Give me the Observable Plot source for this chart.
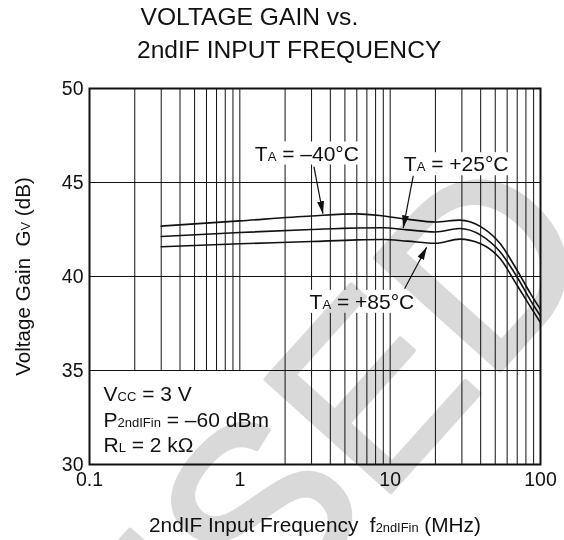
<!DOCTYPE html>
<html>
<head>
<meta charset="utf-8">
<script src="https://cdn.jsdelivr.net/npm/d3@7"></script>
<script src="https://cdn.jsdelivr.net/npm/@observablehq/plot@0.6"></script>
<style>
  html, body { margin: 0; padding: 0; background: #fff; }
  #page { position: relative; width: 564px; height: 540px; overflow: hidden; background: #fff; }
  #title { height: 70px; font-family: "Liberation Sans", Arial, sans-serif; font-size: 24.6px; line-height: 33px; color: #111; }
  #wm { position: absolute; left: 0; top: 0; mix-blend-mode: multiply; pointer-events: none; }
</style>
</head>
<body>
<div id="page">
  <div id="title">
    <div style="padding-left:140.5px">VOLTAGE GAIN vs.</div>
    <div style="padding-left:137px">2ndIF INPUT FREQUENCY</div>
  </div>
  <div id="chart"></div>
  <svg id="wm" width="564" height="540"><text transform="translate(605,254) rotate(-48)" text-anchor="end" font-size="245" fill="#d9d9d9" stroke="#d9d9d9" stroke-width="4" stroke-linejoin="round" font-family="Liberation Sans, Arial, sans-serif">USED</text></svg>
</div>
<script>
// ---- data ----
const freq = [0.3, 1, 3, 6, 9, 13, 20, 29, 40, 54, 70, 86, 100];            // MHz
const gainM40 = [42.68, 42.96, 43.22, 43.33, 43.22, 43.05, 42.90, 43.00, 42.65, 41.74, 40.32, 39.08, 38.25];
const gainP25 = [42.13, 42.34, 42.50, 42.58, 42.59, 42.48, 42.37, 42.55, 42.20, 41.30, 39.96, 38.72, 37.90];
const gainP85 = [41.58, 41.74, 41.86, 41.95, 41.97, 41.88, 41.77, 41.99, 41.74, 40.94, 39.52, 38.37, 37.55];
const seriesNames = ["-40", "+25", "+85"];

const xTicks = [0.1, 1, 10, 100];
const yTicks = [30, 35, 40, 45, 50];
const gridFreqLow = [0.2, 0.3, 0.4, 0.5, 0.6, 0.7, 0.8, 0.9, 1];
const gridFreqHigh = [2, 3, 4, 5, 6, 7, 8, 9, 10, 20, 30, 40, 50, 60, 70, 80, 90];
const gridGain = [35, 40, 45];

// curve labels (baseline-left positions in data units)
const labelText = ["T{A} = –40°C", "T{A} = +25°C", "T{A} = +85°C"];
const labelFreq = [1.258, 12.33, 2.91];
const labelGain = [46.17, 45.6, 38.28];

// arrows: from label to curve
const arrowF1 = [3.11, 14.25, 12.47];
const arrowG1 = [45.85, 45.37, 39.35];
const arrowF2 = [3.57, 12.22, 17.47];
const arrowG2 = [43.34, 42.59, 41.55];

// conditions block
const condText = ["V{CC} = 3 V", "P{2ndIFin} = –60 dBm", "R{L} = 2 kΩ"];
const condFreq = [0.1239, 0.1239, 0.1239];
const condGain = [33.38, 32.0, 30.67];

const xLabel = "2ndIF Input Frequency\u00a0\u00a0f{2ndIFin} (MHz)";
const yLabel = "Voltage Gain\u00a0\u00a0G{V} (dB)";

// ---- tables ----
const seriesVals = [gainM40, gainP25, gainP85];
const curves = [];
seriesNames.forEach((s, i) => freq.forEach((f, j) => curves.push({s, f, g: seriesVals[i][j]})));
const labels = labelText.map((t, i) => ({t, f: labelFreq[i], g: labelGain[i]}));
const arrows = arrowF1.map((d, i) => ({f1: d, g1: arrowG1[i], f2: arrowF2[i], g2: arrowG2[i]}));
const conds = condText.map((t, i) => ({t, f: condFreq[i], g: condGain[i]}));

const INK = "#111";
const FONT = "Liberation Sans, Arial, sans-serif";

const chart = Plot.plot({
  width: 564,
  height: 470,
  marginLeft: 89,
  marginRight: 24,
  marginTop: 18,
  marginBottom: 76,
  style: {fontFamily: FONT, color: INK, background: "transparent", overflow: "visible"},
  x: {type: "log", domain: [0.1, 100]},
  y: {domain: [30, 50]},
  marks: [
    Plot.ruleX(gridFreqLow, {x: d => d, y1: 35, y2: 50, stroke: INK, strokeWidth: 1}),
    Plot.ruleX(gridFreqHigh, {x: d => d, y1: 30, y2: 50, stroke: INK, strokeWidth: 1}),
    Plot.ruleY(gridGain, {y: d => d, stroke: INK, strokeWidth: 1}),
    Plot.line(curves, {x: "f", y: "g", z: "s", curve: "monotone-x", stroke: INK, strokeWidth: 1.6}),
    Plot.link(arrows, {x1: "f1", y1: "g1", x2: "f2", y2: "g2", stroke: INK, strokeWidth: 1.2}),
    Plot.text(labels, {x: "f", y: "g", text: "t", textAnchor: "start", lineAnchor: "bottom", fontSize: 21, fill: INK}),
    Plot.text(conds, {x: "f", y: "g", text: "t", textAnchor: "start", lineAnchor: "bottom", fontSize: 21, fill: INK}),
    Plot.frame({stroke: INK, strokeWidth: 2}),
    Plot.axisX(xTicks, {tickSize: 0, tickPadding: 8, fontSize: 19.5, label: null, tickFormat: d => String(d)}),
    Plot.axisY(yTicks, {tickSize: 0, tickPadding: 6, fontSize: 19.5, label: null}),
    Plot.text([xLabel], {frameAnchor: "bottom", dy: 67.7, textAnchor: "middle", lineAnchor: "bottom", fontSize: 20.8, text: d => d, fill: INK}),
    Plot.text([yLabel], {frameAnchor: "left", rotate: -90, dx: -59.5, textAnchor: "middle", lineAnchor: "bottom", fontSize: 20.6, text: d => d, fill: INK})
  ]
});
document.getElementById("chart").appendChild(chart);

// ---- post-processing: subscripts, label backgrounds, filled arrowheads ----
const NS = "http://www.w3.org/2000/svg";
chart.querySelectorAll("text").forEach(el => {
  const s = el.textContent;
  if (!s.includes("{")) return;
  const isCurveLabel = s.startsWith("T{A}");
  el.textContent = "";
  s.split(/(\{[^}]*\})/).forEach(p => {
    if (!p) return;
    const t = document.createElementNS(NS, "tspan");
    if (p.startsWith("{")) { t.textContent = p.slice(1, -1); t.setAttribute("font-size", "0.62em"); }
    else t.textContent = p;
    el.appendChild(t);
  });
  if (isCurveLabel) {
    const b = el.getBBox();
    const r = document.createElementNS(NS, "rect");
    r.setAttribute("x", b.x - 2);
    r.setAttribute("y", b.y);
    r.setAttribute("width", b.width + 4);
    r.setAttribute("height", b.height);
    r.setAttribute("fill", "#fff");
    if (el.getAttribute("transform")) r.setAttribute("transform", el.getAttribute("transform"));
    el.parentNode.insertBefore(r, el);
  }
});
const defs = document.createElementNS(NS, "defs");
defs.innerHTML = '<marker id="ah" viewBox="0 0 13 7" refX="12.5" refY="3.5" markerWidth="13" markerHeight="7" markerUnits="userSpaceOnUse" orient="auto"><path d="M0,0L13,3.5L0,7Z" fill="#111"/></marker>';
chart.insertBefore(defs, chart.firstChild);
chart.querySelectorAll('g[aria-label="link"] path').forEach(p => p.setAttribute("marker-end", "url(#ah)"));
</script>
</body>
</html>
